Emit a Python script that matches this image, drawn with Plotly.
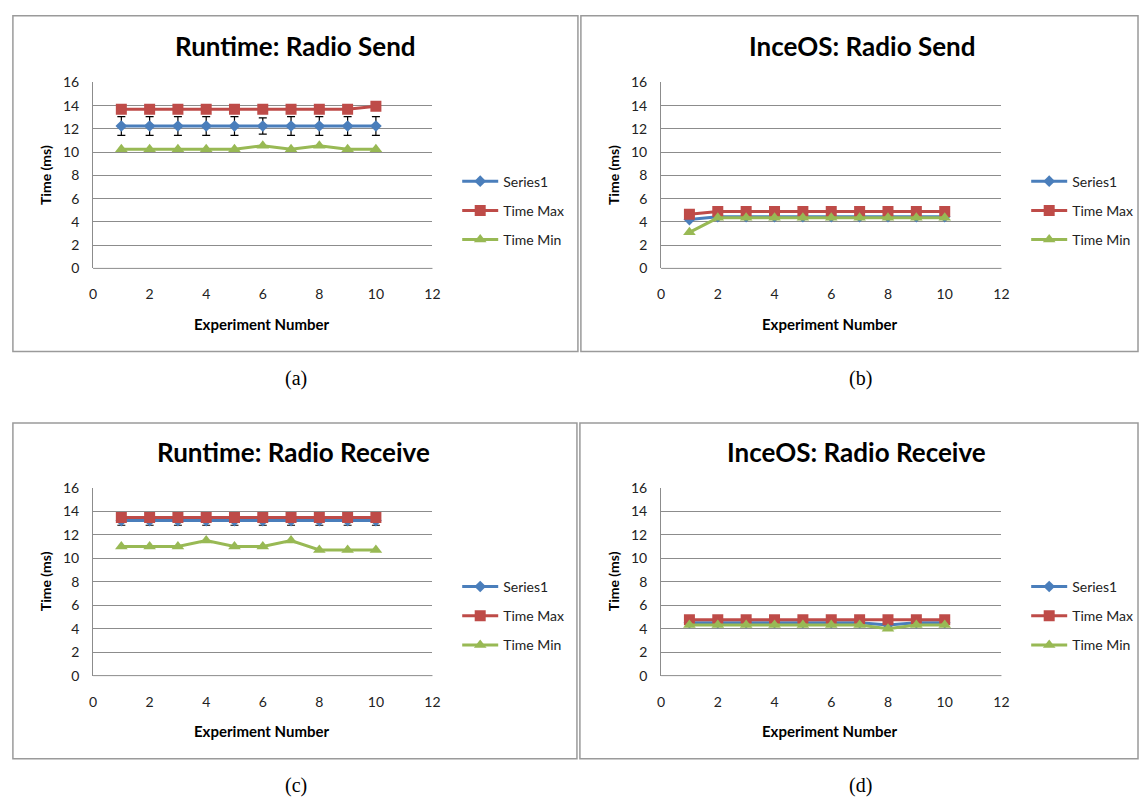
import plotly.graph_objects as go

W, H = 1147, 805

experiments = [1, 2, 3, 4, 5, 6, 7, 8, 9, 10]
series_names = ["Series1", "Time Max", "Time Min"]
titles = ["Runtime: Radio Send", "InceOS: Radio Send", "Runtime: Radio Receive", "InceOS: Radio Receive"]
captions = ["(a)", "(b)", "(c)", "(d)"]
x_ticks = [0, 2, 4, 6, 8, 10, 12]
y_ticks = [0, 2, 4, 6, 8, 10, 12, 14, 16]

# Panel (a) Runtime: Radio Send
a_series1 = [12.25, 12.25, 12.25, 12.25, 12.25, 12.25, 12.25, 12.25, 12.25, 12.25]
a_err = [0.8, 0.8, 0.8, 0.8, 0.8, 0.7, 0.8, 0.8, 0.8, 0.8]
a_max = [13.7, 13.7, 13.7, 13.7, 13.7, 13.7, 13.7, 13.7, 13.7, 13.95]
a_min = [10.25, 10.25, 10.25, 10.25, 10.25, 10.55, 10.25, 10.55, 10.25, 10.25]

# Panel (b) InceOS: Radio Send
b_series1 = [4.2, 4.45, 4.45, 4.45, 4.45, 4.45, 4.45, 4.45, 4.45, 4.45]
b_err = [0, 0, 0, 0, 0, 0, 0, 0, 0, 0]
b_max = [4.65, 4.9, 4.9, 4.9, 4.9, 4.9, 4.9, 4.9, 4.9, 4.9]
b_min = [3.1, 4.35, 4.35, 4.35, 4.35, 4.35, 4.35, 4.35, 4.35, 4.35]

# Panel (c) Runtime: Radio Receive
c_series1 = [13.2, 13.2, 13.2, 13.2, 13.2, 13.2, 13.2, 13.2, 13.2, 13.2]
c_err = [0.4, 0.4, 0.4, 0.4, 0.4, 0.4, 0.4, 0.4, 0.4, 0.4]
c_max = [13.45, 13.45, 13.45, 13.45, 13.45, 13.45, 13.45, 13.45, 13.45, 13.45]
c_min = [11.0, 11.0, 11.0, 11.5, 11.0, 11.0, 11.5, 10.7, 10.7, 10.7]

# Panel (d) InceOS: Radio Receive
d_series1 = [4.5, 4.5, 4.5, 4.5, 4.5, 4.5, 4.5, 4.3, 4.5, 4.5]
d_err = [0, 0, 0, 0, 0, 0, 0, 0, 0, 0]
d_max = [4.75, 4.75, 4.75, 4.75, 4.75, 4.75, 4.75, 4.75, 4.75, 4.75]
d_min = [4.3, 4.3, 4.3, 4.3, 4.3, 4.3, 4.3, 4.0, 4.3, 4.3]

panels = [
    (a_series1, a_err, a_max, a_min),
    (b_series1, b_err, b_max, b_min),
    (c_series1, c_err, c_max, c_min),
    (d_series1, d_err, d_max, d_min),
]

colors = ["#4A7EBB", "#BE4B48", "#98B954"]
symbols = ["diamond", "square", "triangle-up"]
msizes = [9, 11, 11]

# layout geometry in pixels (left, right, top, bottom of plot area)
plot_px = [
    (90, 433, 75, 265),
    (664, 1008, 75, 265),
    (90, 433, 489, 681),
    (664, 1008, 489, 681),
]
box_px = [
    (9, 580, 7, 350),
    (583, 1146, 7, 350),
    (9, 579, 423, 766),
    (582, 1146, 423, 766),
]
caption_px = [(295, 377), (866, 377), (295, 793), (866, 793)]
title_px = [(295, 38), (867, 38), (293, 453), (862, 453)]

def px(x):
    return x / W

def py(y):
    return 1 - y / H

FONT = "Lato, 'Open Sans', sans-serif"

fig = go.Figure()
layout = dict(
    width=W, height=H, margin=dict(l=0, r=0, t=0, b=0), autosize=False,
    paper_bgcolor="white", plot_bgcolor="white",
    showlegend=True, shapes=[], annotations=[],
)

for i, (s1, err, mx, mn) in enumerate(panels):
    k = "" if i == 0 else str(i + 1)
    xa, ya = "x" + k, "y" + k
    leg = "legend" + k
    vals = [s1, mx, mn]
    for j in range(3):
        tr = dict(
            x=experiments, y=vals[j], name=series_names[j], mode="lines+markers",
            line=dict(color=colors[j], width=3),
            marker=dict(symbol=symbols[j], size=msizes[j], color=colors[j]),
            xaxis=xa, yaxis=ya, legend=leg, legendgroup=f"g{i}{j}",
        )
        if j == 0 and any(e > 0 for e in err):
            tr["error_y"] = dict(type="data", array=err, visible=True,
                                 color="black", thickness=1.2, width=4)
        fig.add_trace(go.Scatter(**tr))
    l, r, t, b = plot_px[i]
    layout["xaxis" + k] = dict(
        domain=[px(l), px(r)], range=[0, 12], tickvals=x_ticks, anchor=ya,
        showgrid=False, zeroline=False, showline=False,
        tickfont=dict(family=FONT, size=14, color="#222"),
        ticks="", ticklabelstandoff=16, fixedrange=True,
    )
    layout["yaxis" + k] = dict(
        domain=[py(b), py(t)], range=[0, 16], tickvals=y_ticks, anchor=xa,
        showgrid=True, gridcolor="#8C8C8C", gridwidth=1, zeroline=False,
        showline=True, linecolor="#8C8C8C", linewidth=1,
        tickfont=dict(family=FONT, size=14, color="#222"),
        ticks="", ticklabelstandoff=10, fixedrange=True,
    )
    bl, br, bt, bb = box_px[i]
    layout["shapes"].append(dict(type="rect", xref="paper", yref="paper",
                                 x0=px(bl), x1=px(br), y0=py(bb), y1=py(bt),
                                 line=dict(color="#9A9A9A", width=1.5), layer="below"))
    layout["shapes"].append(dict(type="line", xref="paper", yref="paper",
                                 x0=px(l), x1=px(r), y0=py(b), y1=py(b),
                                 line=dict(color="#8C8C8C", width=1)))
    tx, ty = title_px[i]
    layout["annotations"].append(dict(
        text="<b>" + titles[i] + "</b>", xref="paper", yref="paper",
        x=px(tx), y=py(ty), xanchor="center", yanchor="middle", showarrow=False,
        font=dict(family=FONT, size=26, color="black")))
    layout["annotations"].append(dict(
        text="<b>Time (ms)</b>", xref="paper", yref="paper",
        x=px(l - 48), y=py((t + b) / 2), textangle=-90,
        xanchor="center", yanchor="middle", showarrow=False,
        font=dict(family=FONT, size=14, color="black")))
    layout["annotations"].append(dict(
        text="<b>Experiment Number</b>", xref="paper", yref="paper",
        x=px((l + r) / 2 - 1), y=py(b + 57),
        xanchor="center", yanchor="middle", showarrow=False,
        font=dict(family=FONT, size=15, color="black")))
    cx, cy = caption_px[i]
    layout["annotations"].append(dict(
        text=captions[i], xref="paper", yref="paper", x=px(cx), y=py(cy),
        xanchor="center", yanchor="middle", showarrow=False,
        font=dict(family="Liberation Serif, Times New Roman, serif", size=20, color="black")))
    layout[leg] = dict(
        x=px(r + 25), y=py(t + 85), xanchor="left", yanchor="top",
        bgcolor="rgba(0,0,0,0)", font=dict(family=FONT, size=14, color="#222"),
        tracegroupgap=8, itemwidth=36, itemclick=False, itemdoubleclick=False,
    )

fig.update_layout(**layout)
fig.write_html("out.html", post_script="document.body.style.margin='0';document.body.style.overflow='hidden';")
